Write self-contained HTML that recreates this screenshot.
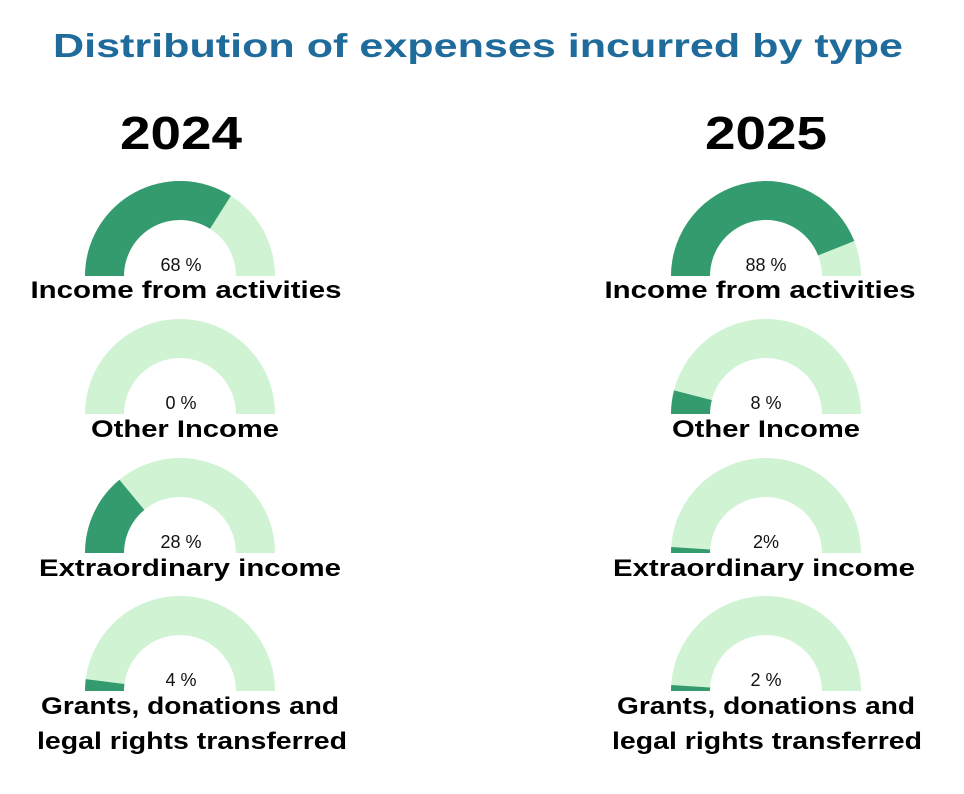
<!DOCTYPE html>
<html><head><meta charset="utf-8"><style>
html,body{margin:0;padding:0;background:#fff;}
svg text{font-family:"Liberation Sans",sans-serif;}
</style></head><body>
<svg width="964" height="789" viewBox="0 0 964 789" xmlns="http://www.w3.org/2000/svg">
<defs>
<g id="bg"><path d="M -95 0 A 95 95 0 0 1 95 0 L 56 0 A 56 56 0 0 0 -56 0 Z" fill="#cff3d3"/></g>
</defs>
<text x="478" y="57" text-anchor="middle" font-size="33" font-weight="bold" fill="#1f6b9b" textLength="850" lengthAdjust="spacingAndGlyphs">Distribution of expenses incurred by type</text>
<text x="181" y="149" text-anchor="middle" font-size="46" font-weight="bold" fill="#000" textLength="122" lengthAdjust="spacingAndGlyphs">2024</text>
<text x="766" y="149" text-anchor="middle" font-size="46" font-weight="bold" fill="#000" textLength="122" lengthAdjust="spacingAndGlyphs">2025</text>

<!-- left column -->
<g transform="translate(180,276)"><use href="#bg"/><path d="M -95 0 A 95 95 0 0 1 50.9 -80.2 L 30 -47.3 A 56 56 0 0 0 -56 0 Z" fill="#339b6e"/></g>
<g transform="translate(180,414)"><use href="#bg"/></g>
<g transform="translate(180,553)"><use href="#bg"/><path d="M -95 0 A 95 95 0 0 1 -60.6 -73.2 L -35.7 -43.1 A 56 56 0 0 0 -56 0 Z" fill="#339b6e"/></g>
<g transform="translate(180,691)"><use href="#bg"/><path d="M -95 0 A 95 95 0 0 1 -94.3 -11.9 L -55.6 -7 A 56 56 0 0 0 -56 0 Z" fill="#339b6e"/></g>

<!-- right column -->
<g transform="translate(766,276)"><use href="#bg"/><path d="M -95 0 A 95 95 0 0 1 88.3 -35 L 52.1 -20.6 A 56 56 0 0 0 -56 0 Z" fill="#339b6e"/></g>
<g transform="translate(766,414)"><use href="#bg"/><path d="M -95 0 A 95 95 0 0 1 -92 -23.6 L -54.2 -13.9 A 56 56 0 0 0 -56 0 Z" fill="#339b6e"/></g>
<g transform="translate(766,553)"><use href="#bg"/><path d="M -95 0 A 95 95 0 0 1 -94.8 -6 L -55.9 -3.5 A 56 56 0 0 0 -56 0 Z" fill="#339b6e"/></g>
<g transform="translate(766,691)"><use href="#bg"/><path d="M -95 0 A 95 95 0 0 1 -94.8 -6 L -55.9 -3.5 A 56 56 0 0 0 -56 0 Z" fill="#339b6e"/></g>

<g font-size="18" fill="#111" text-anchor="middle">
<text x="181" y="271">68 %</text>
<text x="181" y="409">0 %</text>
<text x="181" y="548">28 %</text>
<text x="181" y="686">4 %</text>
<text x="766" y="271">88 %</text>
<text x="766" y="409">8 %</text>
<text x="766" y="548">2%</text>
<text x="766" y="686">2 %</text>
</g>
<g font-size="24" font-weight="bold" fill="#000" text-anchor="middle" lengthAdjust="spacingAndGlyphs">
<text x="186" y="298" textLength="311" lengthAdjust="spacingAndGlyphs">Income from activities</text>
<text x="185" y="437" textLength="188" lengthAdjust="spacingAndGlyphs">Other Income</text>
<text x="190" y="576" textLength="302" lengthAdjust="spacingAndGlyphs">Extraordinary income</text>
<text x="190" y="714" textLength="298" lengthAdjust="spacingAndGlyphs">Grants, donations and</text>
<text x="192" y="749" textLength="310" lengthAdjust="spacingAndGlyphs">legal rights transferred</text>
<text x="760" y="298" textLength="311" lengthAdjust="spacingAndGlyphs">Income from activities</text>
<text x="766" y="437" textLength="188" lengthAdjust="spacingAndGlyphs">Other Income</text>
<text x="764" y="576" textLength="302" lengthAdjust="spacingAndGlyphs">Extraordinary income</text>
<text x="766" y="714" textLength="298" lengthAdjust="spacingAndGlyphs">Grants, donations and</text>
<text x="767" y="749" textLength="310" lengthAdjust="spacingAndGlyphs">legal rights transferred</text>
</g>
</svg>
</body></html>
